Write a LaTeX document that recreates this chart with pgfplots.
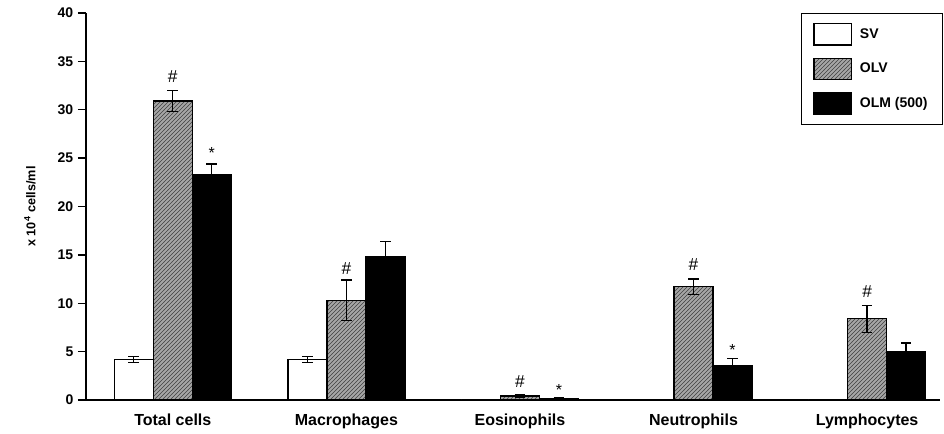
\documentclass[border=0pt]{standalone}
\usepackage{fontspec}
\setmainfont{Liberation Sans}
\usepackage{pgfplots}
\pgfplotsset{compat=1.18}
\usetikzlibrary{patterns}
\pgfplotsset{mylegend/.style={legend image code/.code={\draw[##1] (0pt,-8pt) rectangle (28pt,8pt);}}}
\begin{document}
\begin{tikzpicture}
\begin{axis}[
 scale only axis, width=640.5pt, height=290.25pt,
 xmin=-0.5, xmax=4.42, ymin=0, ymax=40,
 axis x line*=bottom, axis y line*=left,
 axis line style={line width=1pt, black},
 ybar=0pt, bar width=29.25pt,
 xtick={0,...,4},
 xticklabels={Total cells, Macrophages, Eosinophils, Neutrophils, Lymphocytes},
 x tick style={draw=none},
 ytick={0,5,...,40},
 tick align=outside, major tick length=6pt,
 y tick style={line width=1pt, black},
 /pgf/number format/assume math mode=true,
 yticklabel style={font=\bfseries\fontsize{10.5}{12}\selectfont},
 xticklabel style={font=\bfseries\fontsize{12}{14}\selectfont, yshift=-1pt},
 ylabel={x 10\textsuperscript{4} cells/ml},
 ylabel style={at={(axis description cs:-0.0656,0.5)}, anchor=center, font=\bfseries\fontsize{9.5}{11}\selectfont},
 legend style={at={(1.0035,1)}, anchor=north east, draw=black, line width=1pt,
   font=\bfseries\fontsize{10.5}{12}\selectfont, row sep=9pt, column sep=4pt, inner xsep=9pt, inner ysep=7pt},
 legend cell align=left,
 error bars/y dir=both, error bars/y explicit,
 error bars/error bar style={line width=1pt, black},
 error bars/error mark options={rotate=90, mark size=4pt, line width=1pt, black},
 clip=false,
]
\addplot[mylegend, fill=white, draw=black, line width=1pt] coordinates {
 (0,4.2) +- (0,0.3)
 (1,4.2) +- (0,0.3)
 (2,0) +- (0,0)
 (3,0) +- (0,0)
 (4,0) +- (0,0)
};
\addlegendentry{SV}
\addplot[mylegend, fill=gray!70, draw=black, line width=1pt, postaction={pattern=north east lines, pattern color=black!75}] coordinates {
 (0,30.9) +- (0,1.1)
 (1,10.3) +- (0,2.1)
 (2,0.4) +- (0,0.1)
 (3,11.7) +- (0,0.8)
 (4,8.4) +- (0,1.4)
};
\addlegendentry{OLV}
\addplot[mylegend, fill=black, draw=black, line width=1pt] coordinates {
 (0,23.3) +- (0,1.1)
 (1,14.8) +- (0,1.6)
 (2,0.15) +- (0,0.05)
 (3,3.5) +- (0,0.8)
 (4,5.0) +- (0,0.9)
};
\addlegendentry{OLM (500)\hspace{12pt}}
\node[font=\fontsize{13}{13}\selectfont] at (axis cs:0,33.4) {\#};
\node[font=\fontsize{13}{13}\selectfont] at (axis cs:1,13.6) {\#};
\node[font=\fontsize{13}{13}\selectfont] at (axis cs:2,1.9) {\#};
\node[font=\fontsize{13}{13}\selectfont] at (axis cs:3,14.0) {\#};
\node[font=\fontsize{13}{13}\selectfont] at (axis cs:4,11.2) {\#};
\node[font=\fontsize{12}{12}\selectfont] at (axis cs:0.225,25.5) {*};
\node[font=\fontsize{12}{12}\selectfont] at (axis cs:2.225,1.0) {*};
\node[font=\fontsize{12}{12}\selectfont] at (axis cs:3.225,5.2) {*};
\end{axis}
\pgfresetboundingbox
\path[use as bounding box] (current axis.south west) ++(-64.5pt,-25.5pt) rectangle ++(708pt,325.5pt);
\end{tikzpicture}
\end{document}
